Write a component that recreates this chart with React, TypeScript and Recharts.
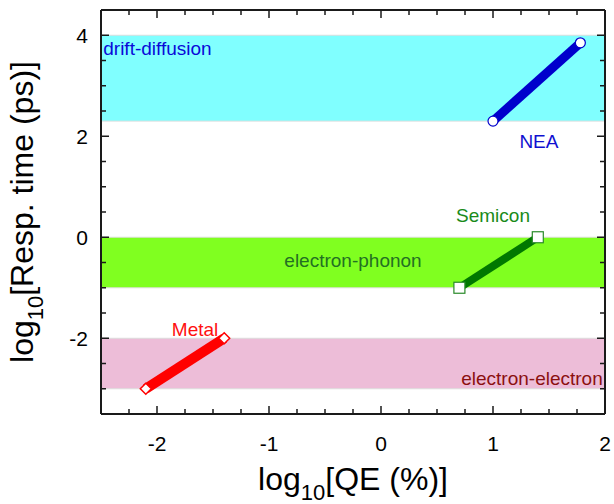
import React from "react";
import {
  ComposedChart,
  Line,
  XAxis,
  YAxis,
  ReferenceArea,
  ReferenceDot,
} from "recharts";

const FONT = "Arial, 'Liberation Sans', Helvetica, sans-serif";
const FRAME = "#1a1a1a";

// tick positions (minor + major)
const xTicks = [
  -2.5, -2.25, -2, -1.75, -1.5, -1.25, -1, -0.75, -0.5, -0.25, 0, 0.25, 0.5, 0.75, 1, 1.25, 1.5,
  1.75, 2,
];
const yTicks = [-3.5, -3, -2.5, -2, -1.5, -1, -0.5, 0, 0.5, 1, 1.5, 2, 2.5, 3, 3.5, 4, 4.5];
const xLabels = [-2, -1, 0, 1, 2];
const yLabels = [-2, 0, 2, 4];
const xRange = [-2.5, 2];
const yRange = [-3.5, 4.5];

// response-time regimes (log10 ps)
const driftBand = [2.3, 4];
const phononBand = [-1, 0];
const electronBand = [-3, -2];

// material classes: log10 QE vs log10 response time
const nea = [
  { x: 1.0, y: 2.3 },
  { x: 1.78, y: 3.85 },
];
const semicon = [
  { x: 0.7, y: -1 },
  { x: 1.4, y: 0 },
];
const metal = [
  { x: -2.1, y: -3 },
  { x: -1.4, y: -2 },
];

const BottomTick = (p: any) => {
  const v = p.payload.value;
  const major = xLabels.includes(v);
  return (
    <g>
      <line x1={p.x} x2={p.x} y1={p.y} y2={p.y - (major ? 8 : 5)} stroke={FRAME} strokeWidth={1.5} />
      {major && (
        <text x={p.x} y={p.y + 29} textAnchor="middle" dominantBaseline="central" fontSize={21} fill="#000" fontFamily={FONT}>
          {v}
        </text>
      )}
    </g>
  );
};

const TopTick = (p: any) => {
  const major = xLabels.includes(p.payload.value);
  return <line x1={p.x} x2={p.x} y1={p.y} y2={p.y + (major ? 8 : 5)} stroke={FRAME} strokeWidth={1.5} />;
};

const LeftTick = (p: any) => {
  const v = p.payload.value;
  const major = yLabels.includes(v);
  return (
    <g>
      <line x1={p.x} x2={p.x + (major ? 8 : 5)} y1={p.y} y2={p.y} stroke={FRAME} strokeWidth={1.5} />
      {major && (
        <text x={p.x - 13} y={p.y} textAnchor="end" dominantBaseline="central" fontSize={21} fill="#000" fontFamily={FONT}>
          {v}
        </text>
      )}
    </g>
  );
};

const RightTick = (p: any) => {
  const major = yLabels.includes(p.payload.value);
  return <line x1={p.x} x2={p.x - (major ? 8 : 5)} y1={p.y} y2={p.y} stroke={FRAME} strokeWidth={1.5} />;
};

const XTitle = (p: any) => {
  const vb = p.viewBox;
  return (
    <text x={vb.x + vb.width / 2} y={vb.y + 76} textAnchor="middle" fontSize={32} fontFamily={FONT} fill="#000">
      log
      <tspan fontSize={22} dy={10}>10</tspan>
      <tspan dy={-10}>[QE (%)]</tspan>
    </text>
  );
};

const YTitle = (p: any) => {
  const vb = p.viewBox;
  const cy = vb.y + vb.height / 2;
  return (
    <text x={33} y={cy} transform={`rotate(-90 33 ${cy})`} textAnchor="middle" fontSize={32} fontFamily={FONT} fill="#000">
      log
      <tspan fontSize={22} dy={10}>10</tspan>
      <tspan dy={-10}>[Resp. time (ps)]</tspan>
    </text>
  );
};

const circleDot = (color: string) => (p: any) =>
  <circle key={p.index} cx={p.cx} cy={p.cy} r={5} fill="#fff" stroke={color} strokeWidth={1.2} />;

const squareDot = (color: string) => (p: any) =>
  <rect key={p.index} x={p.cx - 5.5} y={p.cy - 5.5} width={11} height={11} fill="#fff" stroke={color} strokeWidth={1.2} />;

const diamondDot = (color: string) => (p: any) =>
  (
    <path
      key={p.index}
      d={`M${p.cx},${p.cy - 5.5} L${p.cx + 5.5},${p.cy} L${p.cx},${p.cy + 5.5} L${p.cx - 5.5},${p.cy} Z`}
      fill="#fff"
      stroke={color}
      strokeWidth={1.5}
    />
  );

const note = (text: string, color: string, anchor: string = "middle") => (p: any) =>
  (
    <text x={p.cx} y={p.cy} textAnchor={anchor} dominantBaseline="central" fontSize={19} fontFamily={FONT} fill={color}>
      {text}
    </text>
  );

export default function App() {
  return (
    <div style={{ position: "absolute", left: 0, top: 0, width: 614, height: 504, background: "#fff" }}>
      <ComposedChart width={614} height={504} margin={{ top: 0, right: 0, bottom: 0, left: 0 }}>
        <XAxis
          dataKey="x"
          type="number"
          domain={xRange}
          ticks={xTicks}
          interval={0}
          allowDataOverflow
          height={90}
          tickSize={0}
          tickMargin={0}
          tick={<BottomTick />}
          stroke={FRAME}
          strokeWidth={2}
          label={<XTitle />}
        />
        <XAxis
          xAxisId="top"
          orientation="top"
          dataKey="x"
          type="number"
          domain={xRange}
          ticks={xTicks}
          interval={0}
          allowDataOverflow
          height={10}
          tickSize={0}
          tickMargin={0}
          tick={<TopTick />}
          stroke={FRAME}
          strokeWidth={2}
        />
        <YAxis
          type="number"
          domain={yRange}
          ticks={yTicks}
          interval={0}
          allowDataOverflow
          width={101}
          tickSize={0}
          tickMargin={0}
          tick={<LeftTick />}
          stroke={FRAME}
          strokeWidth={2}
          label={<YTitle />}
        />
        <YAxis
          yAxisId="right"
          orientation="right"
          type="number"
          domain={yRange}
          ticks={yTicks}
          interval={0}
          allowDataOverflow
          width={9}
          tickSize={0}
          tickMargin={0}
          tick={<RightTick />}
          stroke={FRAME}
          strokeWidth={2}
        />

        <ReferenceArea y1={driftBand[0]} y2={driftBand[1]} fill="#80ffff" fillOpacity={1} stroke="#d6dede" strokeWidth={1} />
        <ReferenceArea y1={phononBand[0]} y2={phononBand[1]} fill="#80ff20" fillOpacity={1} stroke="#d8ded0" strokeWidth={1} />
        <ReferenceArea y1={electronBand[0]} y2={electronBand[1]} fill="#edbdd8" fillOpacity={1} stroke="#dcdcdc" strokeWidth={1} />

        {/* hidden series that ties the mirrored top/right axes to the data */}
        <Line xAxisId="top" yAxisId="right" data={nea} dataKey="y" stroke="none" dot={false} activeDot={false} isAnimationActive={false} />

        <Line data={nea} dataKey="y" type="linear" stroke="#0000cc" strokeWidth={9} dot={circleDot("#0000cc")} activeDot={false} isAnimationActive={false} />
        <Line data={semicon} dataKey="y" type="linear" stroke="#007800" strokeWidth={8} dot={squareDot("#2a8a2a")} activeDot={false} isAnimationActive={false} />
        <Line data={metal} dataKey="y" type="linear" stroke="#ff0000" strokeWidth={10} dot={diamondDot("#ff0000")} activeDot={false} isAnimationActive={false} />

        <ReferenceDot x={-2.48} y={3.74} r={0} ifOverflow="visible" shape={note("drift-diffusion", "#0a0ad8", "start")} />
        <ReferenceDot x={1.41} y={1.89} r={0} ifOverflow="visible" shape={note("NEA", "#1010d0")} />
        <ReferenceDot x={1.0} y={0.44} r={0} ifOverflow="visible" shape={note("Semicon", "#1a8a1a")} />
        <ReferenceDot x={-0.25} y={-0.46} r={0} ifOverflow="visible" shape={note("electron-phonon", "#237023")} />
        <ReferenceDot x={-1.66} y={-1.82} r={0} ifOverflow="visible" shape={note("Metal", "#ff1010")} />
        <ReferenceDot x={1.98} y={-2.79} r={0} ifOverflow="visible" shape={note("electron-electron", "#8b1010", "end")} />
      </ComposedChart>
    </div>
  );
}
